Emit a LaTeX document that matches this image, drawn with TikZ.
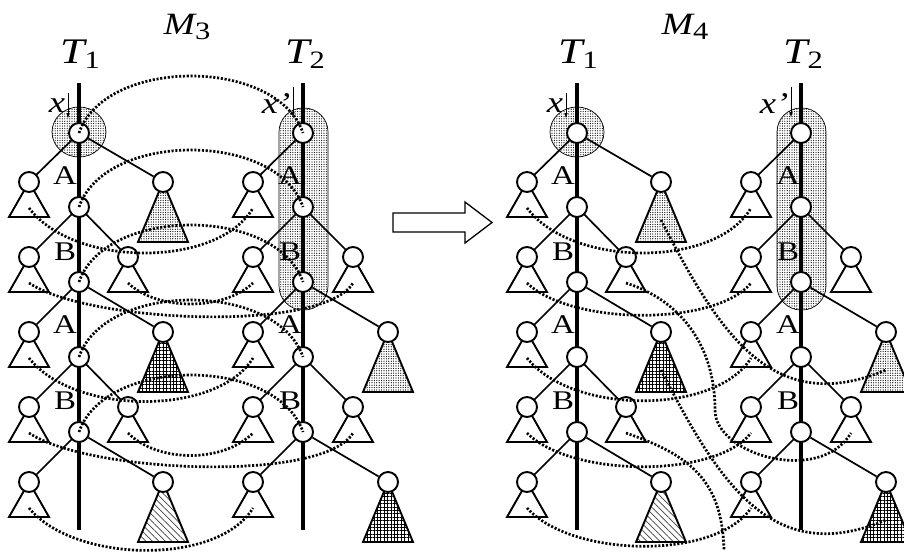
\documentclass[tikz,border=0pt]{standalone}
\usepackage{fontspec}
\usepackage{graphicx}
\setmainfont{Liberation Serif}
\usetikzlibrary{patterns,patterns.meta,arrows.meta}
\newcommand\stretchtxt[1]{\scalebox{1.22}[1]{#1}}
\newcommand\smtri[2]{\draw[tri] (#1,#2) -- ++(-20,35) -- ++(40,0) -- cycle;}
\newcommand\bgtri[3]{\draw[tri,#3] (#1,#2) -- ++(-25,60) -- ++(50,0) -- cycle;}
\newcommand\lblAB[3]{\node[lbl] at (#1,#2) {\stretchtxt{#3}};}
\newcommand\panel[3]{%
\begin{scope}[xshift=#2]
 % shaded regions
 \draw[shade] (79,132) ellipse [x radius=27pt, y radius=25pt];
 \draw[shade, rounded corners=24pt] (279,108) rectangle (328,310);
 % spines
 \coordinate (#1atop) at (79,83); \coordinate (#1abot) at (79,530);
 \coordinate (#1btop) at (303,83); \coordinate (#1bbot) at (303,530);
 \draw[spine] (#1atop) -- (#1abot);
 \draw[spine] (#1btop) -- (#1bbot);
 % triangles T1
 \smtri{29}{182}\smtri{29}{257}\smtri{29}{332}\smtri{29}{407}\smtri{29}{482}
 \bgtri{163}{182}{dotfill}\smtri{128}{257}\bgtri{163}{332}{checkfill}\smtri{128}{407}\bgtri{163}{482}{hatchfill}
 % triangles T2
 \smtri{253}{182}\smtri{253}{257}\smtri{253}{332}\smtri{253}{407}\smtri{253}{482}
 \smtri{353}{257}\bgtri{388}{332}{dotfill}\smtri{353}{407}\bgtri{388}{482}{checkfill}
 % spine nodes
 \node[nd] (#1a1) at (79,133) {}; \node[nd] (#1a2) at (79,207) {};
 \node[nd] (#1a3) at (79,282) {}; \node[nd] (#1a4) at (79,357) {};
 \node[nd] (#1a5) at (79,432) {};
 \node[nd] (#1b1) at (303,133) {}; \node[nd] (#1b2) at (303,207) {};
 \node[nd] (#1b3) at (303,282) {}; \node[nd] (#1b4) at (303,357) {};
 \node[nd] (#1b5) at (303,432) {};
 % children T1
 \node[nd] (#1al1) at (29,182) {}; \node[nd] (#1al2) at (29,257) {};
 \node[nd] (#1al3) at (29,332) {}; \node[nd] (#1al4) at (29,407) {};
 \node[nd] (#1al5) at (29,482) {};
 \node[nd] (#1ar1) at (163,182) {}; \node[nd] (#1ar2) at (128,257) {};
 \node[nd] (#1ar3) at (163,332) {}; \node[nd] (#1ar4) at (128,407) {};
 \node[nd] (#1ar5) at (163,482) {};
 % children T2
 \node[nd] (#1bl1) at (253,182) {}; \node[nd] (#1bl2) at (253,257) {};
 \node[nd] (#1bl3) at (253,332) {}; \node[nd] (#1bl4) at (253,407) {};
 \node[nd] (#1bl5) at (253,482) {};
 \node[nd] (#1br2) at (353,257) {}; \node[nd] (#1br3) at (388,332) {};
 \node[nd] (#1br4) at (353,407) {}; \node[nd] (#1br5) at (388,482) {};
 % edges
 \foreach \k in {1,...,5}{\draw[edge] (#1a\k) -- (#1al\k); \draw[edge] (#1a\k) -- (#1ar\k); \draw[edge] (#1b\k) -- (#1bl\k);}
 \foreach \k in {2,...,5}{\draw[edge] (#1b\k) -- (#1br\k);}
 % subtree anchor points for mapping lines
 \coordinate (#1alt1) at (29,208); \coordinate (#1alt2) at (29,283);
 \coordinate (#1alt3) at (29,358); \coordinate (#1alt4) at (29,433);
 \coordinate (#1alt5) at (29,508);
 \coordinate (#1art1) at (163,220); \coordinate (#1art2) at (128,283);
 \coordinate (#1art3) at (163,370); \coordinate (#1art4) at (128,433);
 \coordinate (#1blt1) at (253,208); \coordinate (#1blt2) at (253,283);
 \coordinate (#1blt3) at (253,358); \coordinate (#1blt4) at (253,433);
 \coordinate (#1blt5) at (253,508);
 \coordinate (#1brt2) at (353,283); \coordinate (#1brt3) at (388,370);
 \coordinate (#1brt4) at (353,433); \coordinate (#1brt5) at (388,520);
 % labels
 \lblAB{65}{176}{A}\lblAB{65}{252}{B}\lblAB{65}{325}{A}\lblAB{65}{401}{B}
 \lblAB{290}{176}{A}\lblAB{290}{252}{B}\lblAB{290}{325}{A}\lblAB{290}{401}{B}
 \node[anchor=base,inner sep=0pt] (#1T1) at (80,63) {\stretchtxt{\fontsize{36}{36}\selectfont\itshape T\raisebox{-5pt}{\fontsize{25}{25}\selectfont\upshape 1}}};
 \node[anchor=base,inner sep=0pt] (#1T2) at (305,63) {\stretchtxt{\fontsize{36}{36}\selectfont\itshape T\raisebox{-5pt}{\fontsize{25}{25}\selectfont\upshape 2}}};
 \node[anchor=base,inner sep=0pt] (#1M) at (187,34) {\stretchtxt{\fontsize{31}{31}\selectfont\itshape M\raisebox{-5pt}{\fontsize{25}{25}\selectfont\upshape #3}}};
 \node[anchor=base,inner sep=0pt] (#1x) at (57,112) {\stretchtxt{\fontsize{30}{30}\selectfont\itshape x}};
 \node[anchor=base,inner sep=0pt] (#1xp) at (276,113) {\stretchtxt{\fontsize{30}{30}\selectfont\itshape x’}};
 \coordinate (#1xa) at (68,93); \coordinate (#1xb) at (68,119);
 \coordinate (#1xpa) at (293,87); \coordinate (#1xpb) at (293,118);
 \draw[ptr] (#1xa) -- (#1xb);
 \draw[ptr] (#1xpa) -- (#1xpb);
\end{scope}}

\begin{document}
\begin{tikzpicture}[x=1pt,y=-1pt,
 spine/.style={line width=4.6pt},
 edge/.style={line width=1.7pt},
 nd/.style={circle,draw,fill=white,line width=1.9pt,minimum size=20pt,inner sep=0pt},
 tri/.style={draw,line width=1.9pt,line join=miter,fill=white},
 dotline/.style={line width=2.7pt,dash pattern=on 2.1pt off 1.7pt},
 shade/.style={draw,line width=0.7pt,pattern={Dots[distance=2.4pt,radius=0.6pt]}},
 dotfill/.style={pattern={Dots[distance=2.4pt,radius=0.62pt]}},
 checkfill/.style={pattern={Hatch[distance=3.4pt,line width=0.7pt]}},
 hatchfill/.style={pattern={Lines[angle=-45,distance=4.6pt,line width=0.7pt]},pattern color=black!75},
 lbl/.style={font=\fontsize{27}{27}\selectfont,inner sep=0pt},
 ptr/.style={line width=0.9pt,-{Latex[length=6pt,width=3.5pt]}},
]
\useasboundingbox (0,0) rectangle (904,558);
\clip (0,0) rectangle (904,558);

\panel{L}{0pt}{3}
\panel{R}{498pt}{4}

% ---- mappings in M3 ----
\foreach \k in {1,...,5}{\draw[dotline] (La\k.center) .. controls +(26,-76) and +(-26,-76) .. (Lb\k.center);}
\draw[dotline] (Lalt1) .. controls +(45,60) and +(-35,60) .. (Lblt1);
\draw[dotline] (Lalt2) .. controls +(60,40) and +(-30,50) .. (Lbrt2);
\draw[dotline] (Lart2) .. controls +(30,28) and +(-30,28) .. (Lblt2);
\draw[dotline] (Lalt3) .. controls +(45,58) and +(-35,58) .. (Lblt3);
\draw[dotline] (Lalt4) .. controls +(60,40) and +(-30,50) .. (Lbrt4);
\draw[dotline] (Lart4) .. controls +(30,30) and +(-30,30) .. (Lblt4);
\draw[dotline] (Lalt5) .. controls +(45,55) and +(-35,58) .. (Lblt5);

% ---- mappings in M4 ----
\coordinate (Rv) at (715,410);
\coordinate (Rend) at (724,550);
\draw[dotline] (Ralt1) .. controls +(45,60) and +(-35,60) .. (Rblt1);
\draw[dotline] (Rart1) .. controls +(58,113) and +(-114,48) .. (Rbrt3);
\draw[dotline] (Ralt2) .. controls +(45,43) and +(-35,43) .. (Rblt2);
\draw[dotline] (Rart2) .. controls +(54,17) and +(0,-65) .. (Rv) .. controls +(0,45) and +(-31,52) .. (Rbrt4);
\draw[dotline] (Ralt3) .. controls +(45,57) and +(-35,57) .. (Rblt3);
\draw[dotline] (Rart3) .. controls +(58,113) and +(-114,48) .. (Rbrt5);
\draw[dotline] (Ralt4) .. controls +(45,45) and +(-35,45) .. (Rblt4);
\draw[dotline] (Rart4) .. controls +(64,22) and +(-2,-70) .. (Rend);
\draw[dotline] (Ralt5) .. controls +(45,50) and +(-35,52) .. (Rblt5);

% ---- block arrow ----
\coordinate (ba1) at (393,213); \coordinate (ba2) at (465,213); \coordinate (ba3) at (465,202);
\coordinate (ba4) at (492,222.5); \coordinate (ba5) at (465,243); \coordinate (ba6) at (465,232);
\coordinate (ba7) at (393,232);
\draw[line width=1.3pt,line join=miter] (ba1) -- (ba2) -- (ba3) -- (ba4) -- (ba5) -- (ba6) -- (ba7) -- cycle;
\end{tikzpicture}
\end{document}
